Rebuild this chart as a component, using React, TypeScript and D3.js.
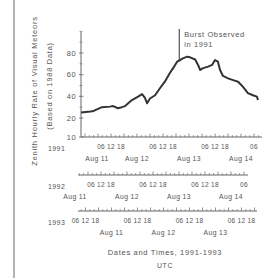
import * as d3 from "d3"

// Perseid ZHR, 1991 (times UTC)
const times1991 = [
  "1991-08-10T22:10Z", "1991-08-11T02:30Z", "1991-08-11T04:00Z", "1991-08-11T05:30Z",
  "1991-08-11T07:50Z", "1991-08-11T11:30Z", "1991-08-11T13:00Z", "1991-08-11T15:10Z",
  "1991-08-11T17:00Z", "1991-08-11T18:30Z", "1991-08-11T21:40Z", "1991-08-12T00:30Z",
  "1991-08-12T02:20Z", "1991-08-12T03:40Z", "1991-08-12T04:40Z", "1991-08-12T06:00Z",
  "1991-08-12T08:20Z", "1991-08-12T10:40Z", "1991-08-12T12:50Z", "1991-08-12T15:10Z",
  "1991-08-12T16:40Z", "1991-08-12T18:30Z", "1991-08-12T19:50Z", "1991-08-12T21:10Z",
  "1991-08-12T23:10Z", "1991-08-13T00:30Z", "1991-08-13T02:50Z", "1991-08-13T04:10Z",
  "1991-08-13T05:10Z", "1991-08-13T06:30Z", "1991-08-13T08:50Z", "1991-08-13T10:40Z",
  "1991-08-13T12:00Z", "1991-08-13T13:20Z", "1991-08-13T14:20Z", "1991-08-13T15:40Z",
  "1991-08-13T18:00Z", "1991-08-13T20:20Z", "1991-08-13T22:40Z", "1991-08-14T00:50Z",
  "1991-08-14T03:10Z", "1991-08-14T05:30Z", "1991-08-14T07:20Z", "1991-08-14T07:50Z",
]
const zhr1991 = [
  25, 26, 26.5, 28, 30, 30.5, 31, 29, 30, 31, 36.6, 39.7,
  42, 38.5, 33.6, 38, 41, 47.7, 53.5, 61.5, 66, 72, 73.5, 75,
  76.6, 76, 74, 69, 64.3, 66, 67.4, 69, 73.5, 72, 64.3, 58.8,
  56.6, 55, 53.5, 49, 43, 41, 39.7, 36.6,
]
const burstTime = "1991-08-12T19:30Z"

const yMajorTicks = [10, 20, 40, 60, 80]
const yMinorTicks = [30, 50, 70, 90, 100]

const years = ["1991", "1992", "1993"]
// UTC time at the left end of each year's time strip
const stripStarts = ["1991-08-10T22:09Z", "1992-08-11T01:23Z", "1993-08-10T08:32Z"]
const dayLabels = [
  ["Aug 11", "Aug 12", "Aug 13", "Aug 14"],
  ["Aug 11", "Aug 12", "Aug 13", "Aug 14"],
  ["Aug 11", "Aug 12", "Aug 13"],
]

const W = 273
const H = 278
const pxPerHour = 52 / 24
const stripX = [[81, 262], [78, 248], [78, 257]]
const stripY = [137, 175, 211]
const ink = "#333"
const tickInk = "#666"
const textInk = "#555"
const font = "'Liberation Sans', Arial, sans-serif"

const parseDay = d3.utcParse("%b %d %Y")

export default function App() {
  const strips = years.map((year, i) => {
    const start = new Date(stripStarts[i])
    const [x0, x1] = stripX[i]
    const end = d3.utcMinute.offset(start, Math.round(((x1 - x0) / pxPerHour) * 60))
    const x = d3.scaleUtc().domain([start, end]).range([x0, x1])
    const ticks = d3.utcHour.every(2)!.range(start, end)
    const days = d3.utcDay.range(d3.utcDay.floor(start), end)
    const hourGroups = days
      .map((day) => {
        const t12 = d3.utcHour.offset(day, 12)
        const t18 = d3.utcHour.offset(day, 18)
        const t06 = d3.utcHour.offset(day, 6)
        if (t12 >= start && t18 <= end) return { text: "06 12 18", x: x(t12) }
        if (t06 >= start && t06 <= end) return { text: "06", x: x(t06) }
        return null
      })
      .filter((g): g is { text: string; x: number } => g !== null)
    const dayMarks = dayLabels[i].map((label, k) => {
      let px = x(parseDay(`${label} ${year}`)!)
      // first 1991 label is pushed off the axis corner
      if (i === 0 && k === 0) px = Math.max(px, x0 + 16)
      return { label, x: px }
    })
    return { year, x, x0, x1, y: stripY[i], ticks, hourGroups, days: dayMarks }
  })

  const x91 = strips[0].x
  const y = d3.scaleLinear().domain([10, 20, 80]).range([137, 118, 53])
  const pts = times1991.map((t, i) => [x91(new Date(t)), y(zhr1991[i])] as [number, number])
  const line = d3.line()(pts) ?? ""

  const bx = x91(new Date(burstTime))
  const bi = d3.bisector((p: [number, number]) => p[0]).left(pts, bx)
  const p0 = pts[Math.max(bi - 1, 0)]
  const p1 = pts[bi]
  const by = p0[1] + ((bx - p0[0]) / (p1[0] - p0[0])) * (p1[1] - p0[1])

  const axisX = 81

  return (
    <svg
      width={W}
      height={H}
      viewBox={`0 0 ${W} ${H}`}
      style={{ position: "absolute", left: 0, top: 0, background: "#fff" }}
      fontFamily={font}
    >
      <line x1={14} x2={14} y1={0} y2={H} stroke="#9a9a9a" strokeWidth={1.5} />

      {/* y axis */}
      <line x1={axisX} x2={axisX} y1={y(100)} y2={y(10)} stroke={tickInk} strokeWidth={1} />
      {yMajorTicks.map((v) => (
        <g key={v}>
          <line x1={axisX - 2} x2={axisX + 2.5} y1={y(v)} y2={y(v)} stroke={tickInk} strokeWidth={0.8} />
          <text x={axisX - 5} y={y(v) + 2.5} fontSize={7.5} textAnchor="end" fill={textInk} letterSpacing={0.4}>
            {v}
          </text>
        </g>
      ))}
      {yMinorTicks.map((v) => (
        <line key={v} x1={axisX - 1.5} x2={axisX + 1.5} y1={y(v)} y2={y(v)} stroke={tickInk} strokeWidth={0.6} />
      ))}

      <g transform="translate(37,91) rotate(-90)">
        <text textAnchor="middle" fontSize={7.5} fill={textInk} letterSpacing={0.75}>
          Zenith Hourly Rate of Visual Meteors
        </text>
      </g>
      <g transform="translate(52,86) rotate(-90)">
        <text textAnchor="middle" fontSize={7.5} fill={textInk} letterSpacing={0.7}>
          (Based on 1988 Data)
        </text>
      </g>

      {/* time strips */}
      {strips.map((s) => (
        <g key={s.year}>
          <line x1={s.x0} x2={s.x1} y1={s.y} y2={s.y} stroke={tickInk} strokeWidth={1} />
          {s.ticks.map((t) => {
            const major = t.getUTCHours() % 6 === 0
            return (
              <line
                key={+t}
                x1={s.x(t)}
                x2={s.x(t)}
                y1={s.y}
                y2={s.y - (major ? 3.5 : 1.8)}
                stroke={tickInk}
                strokeWidth={0.7}
              />
            )
          })}
          <text x={48} y={s.y + 14} fontSize={7} fill={textInk} letterSpacing={0.4}>
            {s.year}
          </text>
          {s.hourGroups.map((g) => (
            <text key={g.x} x={g.x} y={s.y + 12} fontSize={6.5} textAnchor="middle" fill={textInk} letterSpacing={0.3}>
              {g.text}
            </text>
          ))}
          {s.days.map((d) => (
            <text key={d.label} x={d.x} y={s.y + 23.5} fontSize={6.8} textAnchor="middle" fill={textInk} letterSpacing={0.4}>
              {d.label}
            </text>
          ))}
        </g>
      ))}

      {/* data */}
      <path d={line} fill="none" stroke={ink} strokeWidth={2} strokeLinejoin="round" />
      <line x1={bx} x2={bx} y1={29} y2={by} stroke={ink} strokeWidth={1} />
      <text x={bx + 5} y={37} fontSize={7.5} fill={textInk} letterSpacing={0.6}>
        Burst Observed
      </text>
      <text x={bx + 5} y={47} fontSize={7.5} fill={textInk} letterSpacing={0.6}>
        in 1991
      </text>

      <text x={165} y={255} fontSize={7.5} textAnchor="middle" fill={textInk} letterSpacing={0.7}>
        Dates and Times, 1991-1993
      </text>
      <text x={165} y={268} fontSize={7} textAnchor="middle" fill={textInk} letterSpacing={0.5}>
        UTC
      </text>
    </svg>
  )
}
